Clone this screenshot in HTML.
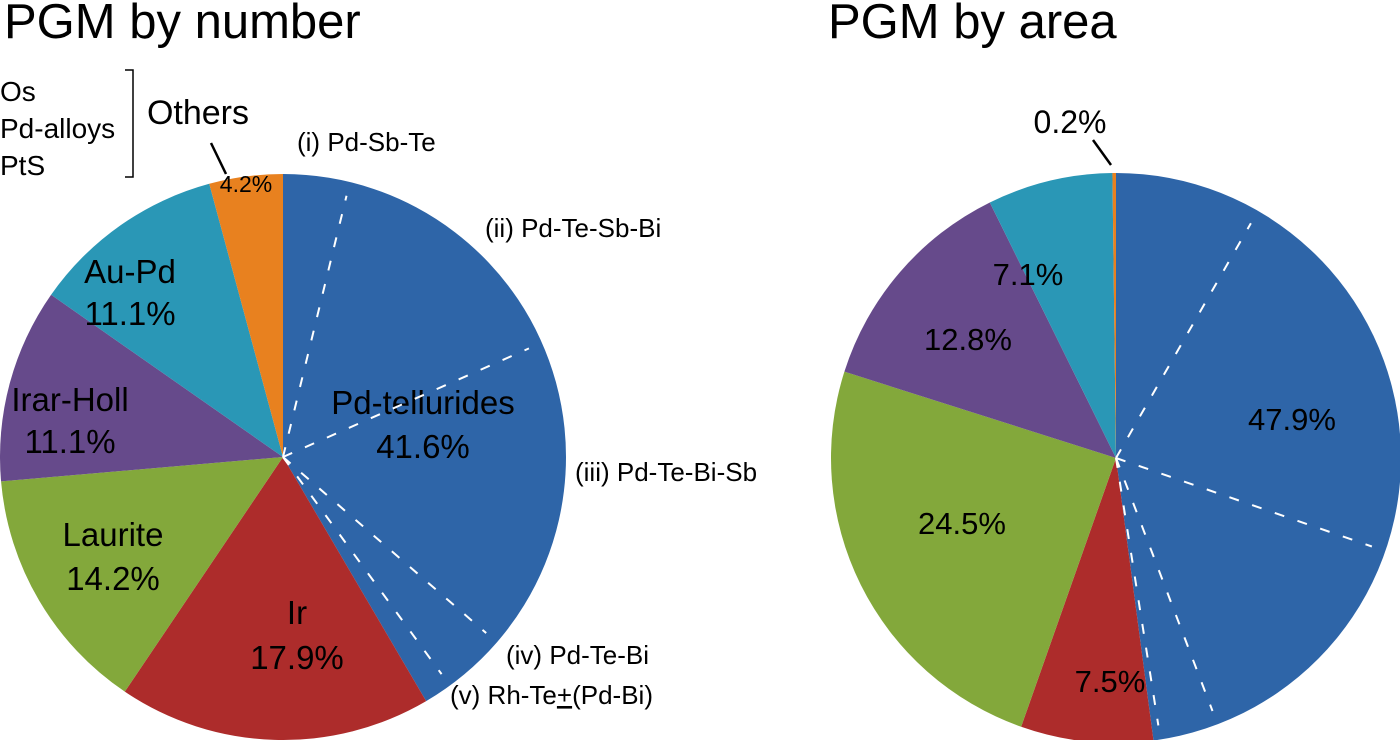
<!DOCTYPE html>
<html><head><meta charset="utf-8"><style>
html,body{margin:0;padding:0;background:#fff}
svg{display:block;font-family:"Liberation Sans",sans-serif}
</style></head><body>
<svg id="chart" width="1400" height="740" viewBox="0 0 1400 740">
<g id="left"></g>
<g id="right"></g>
<g id="labels">
<text x="4" y="38" font-size="49">PGM by number</text>
<text x="828" y="38" font-size="49">PGM by area</text>
<text x="0" y="101" font-size="28">Os</text>
<text x="0" y="138" font-size="28">Pd-alloys</text>
<text x="0" y="175" font-size="28">PtS</text>
<path d="M125,70 H133 V177 H125" fill="none" stroke="#000" stroke-width="1.5"/>
<text x="198" y="124" font-size="34" text-anchor="middle">Others</text>
<line x1="211" y1="143" x2="226" y2="174" stroke="#000" stroke-width="2.5"/>
<text x="297" y="151" font-size="26">(i) Pd-Sb-Te</text>
<text x="485" y="237" font-size="26">(ii) Pd-Te-Sb-Bi</text>
<text x="575" y="481" font-size="26">(iii) Pd-Te-Bi-Sb</text>
<text x="506" y="664" font-size="26">(iv) Pd-Te-Bi</text>
<text x="450" y="704" font-size="26">(v) Rh-Te<tspan text-decoration="underline">+</tspan>(Pd-Bi)</text>
<text x="1070" y="133" font-size="32" text-anchor="middle">0.2%</text>
<line x1="1093" y1="140" x2="1111" y2="165" stroke="#000" stroke-width="2.5"/>
</g>
</svg>
<script>
const leftCats = ["Pd-tellurides","Ir","Laurite","Irar-Holl","Au-Pd","Others"];
const leftVals = [41.6,17.9,14.2,11.1,11.1,4.2];
const leftSub = [3.8,14.6,18.0,3.6,1.6];
const rightVals = [47.9,7.5,24.5,12.8,7.1,0.2];
const rightSub = [8.3,22.0,13.9,3.3,0.4];
const colors = ["#2E65A8","#AD2C2B","#83A83B","#664A8B","#2A97B6","#E8811F"];
const NS="http://www.w3.org/2000/svg";
function pt(cx,cy,r,frac){const a=frac*2*Math.PI;return [cx+r*Math.sin(a),cy-r*Math.cos(a)];}
function drawPie(g,cx,cy,r,vals,sub,labels,fs){
  const tot=vals.reduce((a,b)=>a+b,0);let acc=0;
  vals.forEach((v,i)=>{
    const f0=acc/tot,f1=(acc+v)/tot;acc+=v;
    const p0=pt(cx,cy,r,f0),p1=pt(cx,cy,r,f1);
    const p=document.createElementNS(NS,"path");
    p.setAttribute("d",`M${cx},${cy}L${p0[0]},${p0[1]}A${r},${r} 0 ${f1-f0>0.5?1:0} 1 ${p1[0]},${p1[1]}Z`);
    p.setAttribute("fill",colors[i]);
    
    
    g.appendChild(p);
  });
  labels.forEach((lb,i)=>{
    if(!lb) return;
    lb.lines.forEach((t,k)=>{
      const tx=document.createElementNS(NS,"text");
      tx.setAttribute("x",lb.x);tx.setAttribute("y",lb.y+k*lb.dy);
      tx.setAttribute("font-size",lb.fs||fs);tx.setAttribute("text-anchor","middle");
      tx.textContent=t;
      
      
      g.appendChild(tx);
    });
  });
  let s=0;
  for(let j=0;j<sub.length-1;j++){
    s+=sub[j];const q=pt(cx,cy,r*0.95,s/tot);
    const l=document.createElementNS(NS,"line");
    l.setAttribute("x1",cx);l.setAttribute("y1",cy);l.setAttribute("x2",q[0]);l.setAttribute("y2",q[1]);
    l.setAttribute("stroke","#fff");l.setAttribute("stroke-width","2");l.setAttribute("stroke-dasharray","10 14");
    
    
    g.appendChild(l);
  }
}
drawPie(document.getElementById("left"),283,457,283,leftVals,leftSub,[
 {x:423,y:414,dy:44,lines:["Pd-tellurides",leftVals[0]+"%"]},
 {x:297,y:624,dy:45,lines:["Ir",leftVals[1]+"%"]},
 {x:113,y:546,dy:44,lines:["Laurite",leftVals[2]+"%"]},
 {x:70,y:411,dy:42,lines:["Irar-Holl",leftVals[3]+"%"]},
 {x:130,y:283,dy:42,lines:["Au-Pd",leftVals[4]+"%"]},
 {x:246,y:192,dy:0,fs:23,lines:[leftVals[5]+"%"]}
],33);
drawPie(document.getElementById("right"),1116,458,285,rightVals,rightSub,[
 {x:1292,y:430,dy:0,lines:[rightVals[0]+"%"]},
 {x:1110,y:692,dy:0,lines:[rightVals[1]+"%"]},
 {x:962,y:534,dy:0,lines:[rightVals[2]+"%"]},
 {x:968,y:350,dy:0,lines:[rightVals[3]+"%"]},
 {x:1028,y:285,dy:0,lines:[rightVals[4]+"%"]},
 null
],31);
</script>
</body></html>
